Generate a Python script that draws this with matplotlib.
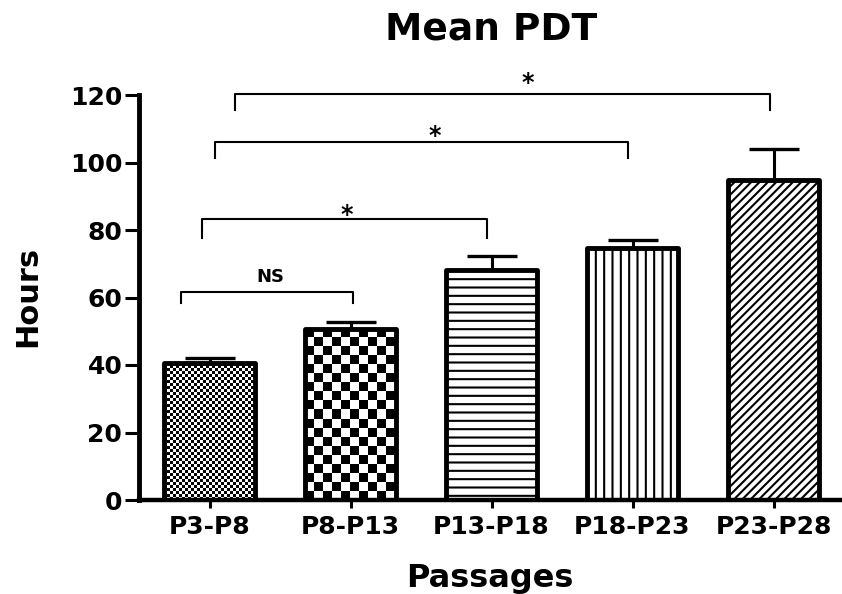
import matplotlib as mpl
mpl.use('Agg')
import matplotlib.pyplot as plt
import numpy as np

plt.rcParams['font.family'] = ['DejaVu Sans']
plt.rcParams['font.weight'] = 'bold'
plt.rcParams['hatch.linewidth'] = 1.5

# mean population doubling time per passage range (hours) and SEM
passages = ['P3-P8', 'P8-P13', 'P13-P18', 'P18-P23', 'P23-P28']
mean_pdt = [40.5, 50.7, 68.2, 74.6, 94.9]
sem_pdt = [1.5, 2.0, 4.2, 2.5, 9.2]

# significance brackets: start/end (bar units), height, leg bottom, text
br_x1 = [-0.2, -0.05, 0.04, 0.18]
br_x2 = [1.02, 1.97, 2.97, 3.975]
br_top = [61.6, 83.3, 106.1, 120.3]
br_leg = [58.4, 77.6, 101.3, 115.6]
br_text = ['NS', '*', '*', '*']
br_text_x = [0.43, 0.97, 1.6, 2.26]
br_text_y = [66.0, 84.5, 108.0, 123.5]


def checker(w_px, h_px, cell):
    yy, xx = np.mgrid[0:h_px, 0:w_px]
    return ((xx // cell + yy // cell) % 2).astype(float)


fig = plt.figure(figsize=(8.42, 5.94), dpi=100)
ax = fig.add_axes([139 / 842, 94 / 594, 705 / 842, 405 / 594])

x = np.arange(len(passages))
width = 0.65
hatches = [None, None, '--', '||', '////']
bars = ax.bar(x, mean_pdt, width=width, color='white', edgecolor='black',
              linewidth=3.5, zorder=2)
for b, h in zip(bars, hatches):
    b.set_joinstyle('round')
    if h:
        b.set_hatch(h)
    else:
        b.set_facecolor('none')

# checkerboards for the first two bars (fine and coarse)
px_x = 705 / 5.0
px_y = 405 / 120.0
for i, cell in [(0, 3), (1, 9)]:
    l = x[i] - width / 2
    arr = checker(int(round(width * px_x)), int(round(mean_pdt[i] * px_y)), cell)
    ax.imshow(arr, extent=(l, l + width, 0, mean_pdt[i]), cmap='gray',
              vmin=0, vmax=1, interpolation='nearest', aspect='auto',
              origin='lower', zorder=1)
ax.set_xlim(-0.5, 4.5)
ax.set_ylim(0, 120)

ax.errorbar(x, mean_pdt, yerr=[[0] * len(x), sem_pdt], fmt='none',
            ecolor='black', elinewidth=2.2, capsize=18, capthick=2.4,
            zorder=3)

for x1, x2, top, leg, t, tx, ty in zip(br_x1, br_x2, br_top, br_leg,
                                       br_text, br_text_x, br_text_y):
    ax.plot([x1, x1, x2, x2], [leg, top, top, leg], color='black', lw=1.5,
            clip_on=False, solid_joinstyle='round', zorder=4)
    if t == 'NS':
        ax.text(tx, ty, t, ha='center', va='center', fontsize=13,
                fontweight='bold')
    else:
        ax.text(tx, ty, t, ha='center', va='center', fontsize=17,
                fontweight='bold')

ax.spines['top'].set_visible(False)
ax.spines['right'].set_visible(False)
ax.spines['left'].set_linewidth(3.5)
ax.spines['bottom'].set_linewidth(3.2)

ax.set_yticks(np.arange(0, 121, 20))
ax.set_xticks(x)
ax.set_xticklabels(passages)
ax.tick_params(axis='y', length=10, width=2.2, pad=2, labelsize=18)
ax.tick_params(axis='x', length=6, width=2.2, pad=5, labelsize=18)

fig.text(491 / 842, 1 - 40 / 594, 'Mean PDT', ha='center', va='baseline',
         fontsize=27, fontweight='bold')
fig.text(490 / 842, 1 - 587 / 594, 'Passages', ha='center', va='baseline',
         fontsize=23, fontweight='bold')
fig.text(28 / 842, 1 - 296 / 594, 'Hours', ha='center', va='center',
         rotation=90, fontsize=22, fontweight='bold')

fig.savefig('out.png', dpi=100)
